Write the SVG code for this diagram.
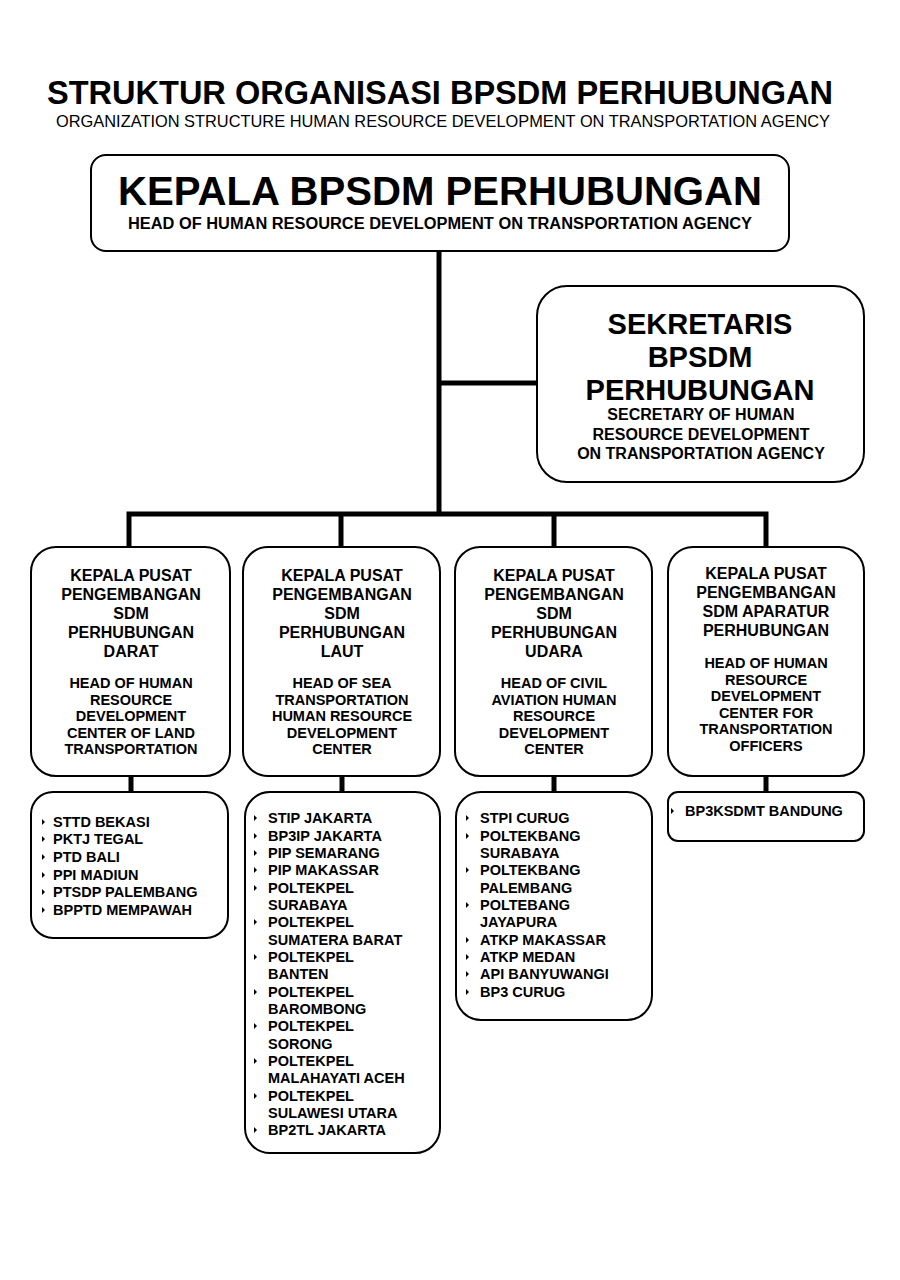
<svg xmlns="http://www.w3.org/2000/svg" xmlns:xlink="http://www.w3.org/1999/xlink" width="900" height="1280" viewBox="0 0 900 1280">
<style>
text{font-family:"Liberation Sans",Arial,sans-serif;fill:#000;}
.b{font-weight:bold;}
.c{text-anchor:middle;}
.box{fill:#fff;stroke:#000;stroke-width:2;}
.conn{fill:none;stroke:#000;stroke-width:5;stroke-linejoin:miter;}
.h2{font-size:16px;font-weight:bold;text-anchor:middle;}
.e2{font-size:14.5px;font-weight:bold;text-anchor:middle;}
.li{font-size:14.5px;font-weight:bold;}
</style>
<defs>
<polygon id="bul" points="0,-3 3,0 0,3" fill="#000"/>
</defs>
<rect width="900" height="1280" fill="#fff"/>

<g id="title">
<text class="b c" x="440" y="104" font-size="33" textLength="786" lengthAdjust="spacingAndGlyphs">STRUKTUR ORGANISASI BPSDM PERHUBUNGAN</text>
<text class="c" x="443" y="127" font-size="17" textLength="774" lengthAdjust="spacingAndGlyphs">ORGANIZATION STRUCTURE HUMAN RESOURCE DEVELOPMENT ON TRANSPORTATION AGENCY</text>
</g>

<g id="connectors">
<path class="conn" d="M439,251 V514"/>
<path class="conn" d="M439,383 H537"/>
<path class="conn" d="M129,547 V514 H766 V547"/>
<path class="conn" d="M341,514 V547"/>
<path class="conn" d="M554,514 V547"/>
<path class="conn" d="M131,776 V792"/>
<path class="conn" d="M342,776 V792"/>
<path class="conn" d="M554,776 V792"/>
<path class="conn" d="M766,776 V792"/>
</g>

<g id="kepala">
<rect class="box" x="91" y="155" width="698" height="96" rx="15"/>
<text class="b c" x="440" y="205" font-size="40" textLength="644" lengthAdjust="spacingAndGlyphs">KEPALA BPSDM PERHUBUNGAN</text>
<text class="b c" x="440" y="229" font-size="16" textLength="624" lengthAdjust="spacingAndGlyphs">HEAD OF HUMAN RESOURCE DEVELOPMENT ON TRANSPORTATION AGENCY</text>
</g>

<g id="sekretaris">
<rect class="box" x="537" y="286" width="327" height="196" rx="30"/>
<text class="b c" x="700" y="334" font-size="29">SEKRETARIS</text>
<text class="b c" x="700" y="367" font-size="29">BPSDM</text>
<text class="b c" x="700" y="400" font-size="29">PERHUBUNGAN</text>
<text class="b c" x="701" y="420" font-size="16">SECRETARY OF HUMAN</text>
<text class="b c" x="701" y="440" font-size="16">RESOURCE DEVELOPMENT</text>
<text class="b c" x="701" y="459" font-size="16">ON TRANSPORTATION AGENCY</text>
</g>

<g id="pusat-darat">
<rect class="box" x="31" y="547" width="199" height="229" rx="25"/>
<text class="h2" x="131" y="581">KEPALA PUSAT</text>
<text class="h2" x="131" y="600">PENGEMBANGAN</text>
<text class="h2" x="131" y="619">SDM</text>
<text class="h2" x="131" y="638">PERHUBUNGAN</text>
<text class="h2" x="131" y="657">DARAT</text>
<text class="e2" x="131" y="688">HEAD OF HUMAN</text>
<text class="e2" x="131" y="705">RESOURCE</text>
<text class="e2" x="131" y="721">DEVELOPMENT</text>
<text class="e2" x="131" y="738">CENTER OF LAND</text>
<text class="e2" x="131" y="754">TRANSPORTATION</text>
</g>

<g id="pusat-laut">
<rect class="box" x="243" y="547" width="197" height="229" rx="25"/>
<text class="h2" x="342" y="581">KEPALA PUSAT</text>
<text class="h2" x="342" y="600">PENGEMBANGAN</text>
<text class="h2" x="342" y="619">SDM</text>
<text class="h2" x="342" y="638">PERHUBUNGAN</text>
<text class="h2" x="342" y="657">LAUT</text>
<text class="e2" x="342" y="688">HEAD OF SEA</text>
<text class="e2" x="342" y="705">TRANSPORTATION</text>
<text class="e2" x="342" y="721">HUMAN RESOURCE</text>
<text class="e2" x="342" y="738">DEVELOPMENT</text>
<text class="e2" x="342" y="754">CENTER</text>
</g>

<g id="pusat-udara">
<rect class="box" x="455" y="547" width="197" height="229" rx="25"/>
<text class="h2" x="554" y="581">KEPALA PUSAT</text>
<text class="h2" x="554" y="600">PENGEMBANGAN</text>
<text class="h2" x="554" y="619">SDM</text>
<text class="h2" x="554" y="638">PERHUBUNGAN</text>
<text class="h2" x="554" y="657">UDARA</text>
<text class="e2" x="554" y="688">HEAD OF CIVIL</text>
<text class="e2" x="554" y="705">AVIATION HUMAN</text>
<text class="e2" x="554" y="721">RESOURCE</text>
<text class="e2" x="554" y="738">DEVELOPMENT</text>
<text class="e2" x="554" y="754">CENTER</text>
</g>

<g id="pusat-aparatur">
<rect class="box" x="668" y="547" width="196" height="229" rx="25"/>
<text class="h2" x="766" y="579">KEPALA PUSAT</text>
<text class="h2" x="766" y="598">PENGEMBANGAN</text>
<text class="h2" x="766" y="617">SDM APARATUR</text>
<text class="h2" x="766" y="636">PERHUBUNGAN</text>
<text class="e2" x="766" y="668">HEAD OF HUMAN</text>
<text class="e2" x="766" y="685">RESOURCE</text>
<text class="e2" x="766" y="701">DEVELOPMENT</text>
<text class="e2" x="766" y="718">CENTER FOR</text>
<text class="e2" x="766" y="734">TRANSPORTATION</text>
<text class="e2" x="766" y="751">OFFICERS</text>
</g>

<g id="unit-darat">
<rect class="box" x="31" y="792" width="197" height="146" rx="22"/>
<use xlink:href="#bul" x="42" y="822"/><text class="li" x="53" y="827">STTD BEKASI</text>
<use xlink:href="#bul" x="42" y="839"/><text class="li" x="53" y="844">PKTJ TEGAL</text>
<use xlink:href="#bul" x="42" y="857"/><text class="li" x="53" y="862">PTD BALI</text>
<use xlink:href="#bul" x="42" y="875"/><text class="li" x="53" y="880">PPI MADIUN</text>
<use xlink:href="#bul" x="42" y="892"/><text class="li" x="53" y="897">PTSDP PALEMBANG</text>
<use xlink:href="#bul" x="42" y="910"/><text class="li" x="53" y="915">BPPTD MEMPAWAH</text>
</g>

<g id="unit-laut">
<rect class="box" x="245" y="792" width="195" height="361" rx="25"/>
<use xlink:href="#bul" x="254" y="818"/><text class="li" x="268" y="823">STIP JAKARTA</text>
<use xlink:href="#bul" x="254" y="836"/><text class="li" x="268" y="841">BP3IP JAKARTA</text>
<use xlink:href="#bul" x="254" y="853"/><text class="li" x="268" y="858">PIP SEMARANG</text>
<use xlink:href="#bul" x="254" y="870"/><text class="li" x="268" y="875">PIP MAKASSAR</text>
<use xlink:href="#bul" x="254" y="888"/><text class="li" x="268" y="893">POLTEKPEL</text>
<text class="li" x="268" y="910">SURABAYA</text>
<use xlink:href="#bul" x="254" y="922"/><text class="li" x="268" y="927">POLTEKPEL</text>
<text class="li" x="268" y="945">SUMATERA BARAT</text>
<use xlink:href="#bul" x="254" y="957"/><text class="li" x="268" y="962">POLTEKPEL</text>
<text class="li" x="268" y="979">BANTEN</text>
<use xlink:href="#bul" x="254" y="992"/><text class="li" x="268" y="997">POLTEKPEL</text>
<text class="li" x="268" y="1014">BAROMBONG</text>
<use xlink:href="#bul" x="254" y="1026"/><text class="li" x="268" y="1031">POLTEKPEL</text>
<text class="li" x="268" y="1049">SORONG</text>
<use xlink:href="#bul" x="254" y="1061"/><text class="li" x="268" y="1066">POLTEKPEL</text>
<text class="li" x="268" y="1083">MALAHAYATI ACEH</text>
<use xlink:href="#bul" x="254" y="1096"/><text class="li" x="268" y="1101">POLTEKPEL</text>
<text class="li" x="268" y="1118">SULAWESI UTARA</text>
<use xlink:href="#bul" x="254" y="1130"/><text class="li" x="268" y="1135">BP2TL JAKARTA</text>
</g>

<g id="unit-udara">
<rect class="box" x="456" y="792" width="196" height="228" rx="25"/>
<use xlink:href="#bul" x="466" y="818"/><text class="li" x="480" y="823">STPI CURUG</text>
<use xlink:href="#bul" x="466" y="836"/><text class="li" x="480" y="841">POLTEKBANG</text>
<text class="li" x="480" y="858">SURABAYA</text>
<use xlink:href="#bul" x="466" y="870"/><text class="li" x="480" y="875">POLTEKBANG</text>
<text class="li" x="480" y="893">PALEMBANG</text>
<use xlink:href="#bul" x="466" y="905"/><text class="li" x="480" y="910">POLTEBANG</text>
<text class="li" x="480" y="927">JAYAPURA</text>
<use xlink:href="#bul" x="466" y="940"/><text class="li" x="480" y="945">ATKP MAKASSAR</text>
<use xlink:href="#bul" x="466" y="957"/><text class="li" x="480" y="962">ATKP MEDAN</text>
<use xlink:href="#bul" x="466" y="974"/><text class="li" x="480" y="979">API BANYUWANGI</text>
<use xlink:href="#bul" x="466" y="992"/><text class="li" x="480" y="997">BP3 CURUG</text>
</g>

<g id="unit-aparatur">
<rect class="box" x="668" y="792" width="196" height="49" rx="10"/>
<use xlink:href="#bul" x="671" y="811"/><text class="li" x="685" y="816">BP3KSDMT BANDUNG</text>
</g>
</svg>
